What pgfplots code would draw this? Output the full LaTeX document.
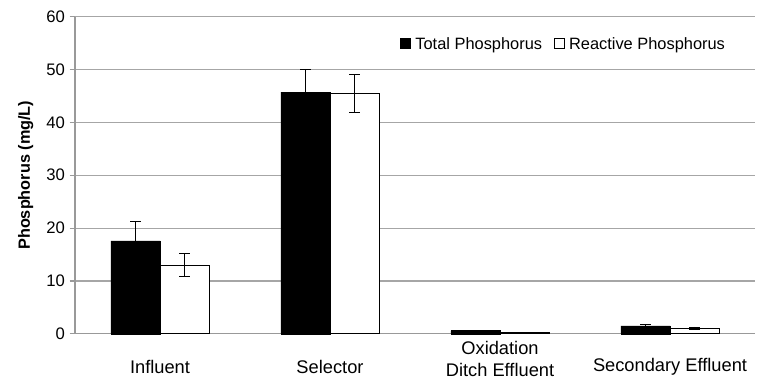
\documentclass[border=0pt]{standalone}
\usepackage{pgfplots}
\pgfplotsset{compat=1.18}
\usepackage{fontspec}
\setmainfont{Liberation Sans}
\begin{document}
\begin{tikzpicture}
\begin{axis}[
  scale only axis, width=510pt, height=238pt,
  xmin=-0.5, xmax=3.5, ymin=0, ymax=60,
  ytick={0,10,...,60},
  xtick={0,1,2,3},
  xticklabels={Influent,Selector,{\raisebox{4pt}[\height][\depth]{\begin{tabular}{@{}c@{}}Oxidation\\Ditch Effluent\end{tabular}}},Secondary Effluent},
  xticklabel style={align=center, font=\fontsize{13.7}{16.5}\selectfont, anchor=center, yshift=-20.75pt},
  yticklabel style={font=\fontsize{12.5}{14}\selectfont},
  /pgf/number format/assume math mode=true,
  axis x line*=bottom, axis y line*=left,
  axis line style={gray!80, line width=0.8pt},
  major x tick style={draw=none},
  major y tick style={gray!80, line width=0.8pt},
  tick align=outside, major tick length=4pt,
  ymajorgrids, grid style={gray!70, line width=0.8pt},
  ylabel={\bfseries Phosphorus (mg/L)},
  ylabel style={font=\fontsize{12.2}{14}\selectfont, yshift=3pt},
  ybar=0pt, bar width=36.8pt,
  legend style={draw=none, fill=white, at={(0.966,0.913)}, anchor=east, legend columns=2, font=\fontsize{12.3}{14}\selectfont, /tikz/every odd column/.append style={column sep=1.5pt}, /tikz/every even column/.append style={column sep=7pt}},
  legend image code/.code={\draw[#1, draw=black, line width=0.6pt] (0cm,-0.11cm) rectangle (0.25cm,0.14cm);},
  clip=false,
]
\addplot[fill=black, draw=black, error bars/.cd, y dir=both, y explicit, error bar style={black, line width=0.7pt}, error mark options={rotate=90, mark size=4pt, black, line width=0.7pt}]
  coordinates {(0,17.6) +- (0,3.6) (1,45.7) +- (0,4.2) (2,0.6) +- (0,0.05) (3,1.5) +- (0,0.3)};
\addplot[fill=white, draw=black, line width=0.7pt, error bars/.cd, y dir=both, y explicit, error bar style={black, line width=0.7pt}, error mark options={rotate=90, mark size=4pt, black, line width=0.7pt}]
  coordinates {(0,13.0) +- (0,2.2) (1,45.4) +- (0,3.6) (2,0.3) +- (0,0.05) (3,1.1) +- (0,0.2)};
\legend{Total Phosphorus, Reactive Phosphorus}
\end{axis}
\pgfresetboundingbox
\useasboundingbox ([xshift=-56.25pt,yshift=-36.75pt]current axis.south west) rectangle ([xshift=7.5pt,yshift=12.4pt]current axis.north east);
\end{tikzpicture}
\end{document}
